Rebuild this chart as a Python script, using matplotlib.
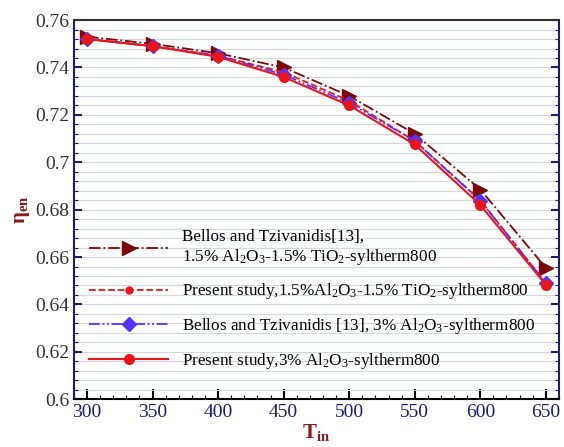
import numpy as np
import matplotlib
matplotlib.use('Agg')
import matplotlib.pyplot as plt
from matplotlib.ticker import MultipleLocator, FuncFormatter

plt.rcParams['font.family'] = ['Liberation Serif', 'DejaVu Serif']
plt.rcParams['mathtext.fontset'] = 'custom'
plt.rcParams['mathtext.rm'] = 'Liberation Serif'
plt.rcParams['mathtext.it'] = 'Liberation Serif:italic'
plt.rcParams['mathtext.bf'] = 'Liberation Serif:bold'

t_in = [300, 350, 400, 450, 500, 550, 600, 650]
bellos_hybrid = [0.753, 0.750, 0.746, 0.740, 0.728, 0.712, 0.6885, 0.6555]
present_hybrid = [0.752, 0.749, 0.745, 0.738, 0.726, 0.709, 0.684, 0.649]
bellos_al2o3 = [0.752, 0.749, 0.745, 0.737, 0.725, 0.709, 0.6838, 0.649]
present_al2o3 = [0.752, 0.749, 0.7445, 0.736, 0.724, 0.7075, 0.682, 0.6483]

labels = [
    'Bellos and Tzivanidis[13],\n1.5% Al$_2$O$_3$-1.5% TiO$_2$-syltherm800',
    'Present study,1.5%Al$_2$O$_3$-1.5% TiO$_2$-syltherm800',
    'Bellos and Tzivanidis [13], 3% Al$_2$O$_3$-syltherm800',
    'Present study,3% Al$_2$O$_3$-syltherm800',
]

fig = plt.figure(figsize=(5.64, 4.47), dpi=100)
ax = fig.add_axes([0.131, 0.107, 0.86, 0.848])

ax.plot(t_in, bellos_hybrid, color='#7a0a0a', linestyle='-.', marker='>',
        markersize=10, linewidth=1.3, label=labels[0], zorder=3)
ax.plot(t_in, present_hybrid, color='#e8161b', linestyle='--', marker='o',
        markersize=5, linewidth=1.3, label=labels[1], zorder=4)
ax.plot(t_in, bellos_al2o3, color='#5533ff', linestyle=(0, (6, 1.5, 1, 1.5, 1, 1.5)),
        marker='D', markersize=7, linewidth=1.3, label=labels[2], zorder=4)
ax.plot(t_in, present_al2o3, color='#e8161b', linestyle='-', marker='o',
        markersize=7, linewidth=1.5, label=labels[3], zorder=5)

ax.set_xlim(290, 660)
ax.set_ylim(0.6, 0.76)
ax.set_xticks(t_in)
ax.yaxis.set_major_locator(MultipleLocator(0.02))
ax.yaxis.set_minor_locator(MultipleLocator(0.004))
ax.xaxis.set_minor_locator(MultipleLocator(10))
ax.yaxis.set_major_formatter(FuncFormatter(lambda v, p: f'{round(v, 3):g}'))

ax.grid(True, which='both', axis='y', color='#d3d9df', linewidth=0.8)
ax.set_axisbelow(True)

navy = '#1c1c70'
ax.spines['left'].set_color(navy)
ax.spines['right'].set_color(navy)
ax.spines['bottom'].set_color('black')
ax.spines['top'].set_color('#333333')
for s in ax.spines.values():
    s.set_linewidth(1.5)

ax.tick_params(axis='y', which='major', direction='in', length=6, width=1.5,
               color=navy, right=True, labelsize=14, labelcolor='#333333')
ax.tick_params(axis='y', which='minor', direction='in', length=3, width=0.8,
               color=navy, right=True)
ax.tick_params(axis='x', which='major', direction='in', length=7, width=1.5,
               color='black', labelsize=14, labelcolor=navy)
ax.tick_params(axis='x', which='minor', direction='in', length=3, width=0.8,
               color='black')

ax.set_xlabel(r'$\mathbf{T}_{\mathbf{in}}$', color='#8b1a1a', fontsize=15, labelpad=1)
ax.set_ylabel(r'$\mathbf{\eta}_{\mathbf{en}}$', color='#8b1a1a', fontsize=15, labelpad=2)

ax.legend(loc='lower left', bbox_to_anchor=(0.0, 0.035), frameon=False,
          fontsize=12.3, handlelength=4.6, labelspacing=0.85, handletextpad=0.8)

fig.savefig('out.png', dpi=100)
